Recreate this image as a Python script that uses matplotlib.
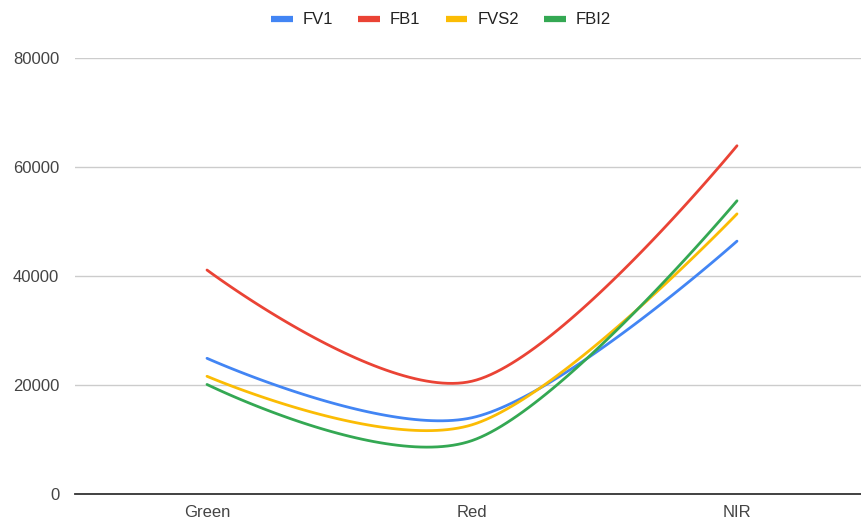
import numpy as np
import matplotlib
matplotlib.use("Agg")
import matplotlib.pyplot as plt
from matplotlib.lines import Line2D

plt.rcParams['font.family'] = ['Liberation Sans', 'DejaVu Sans']

bands = ["Green", "Red", "NIR"]
fv1 = [24900, 14000, 46400]
fb1 = [41100, 20700, 63900]
fvs2 = [21600, 12700, 51400]
fbi2 = [20100, 9800, 53800]

series = [("FV1", fv1, "#4285F4"),
          ("FB1", fb1, "#EA4335"),
          ("FVS2", fvs2, "#FBBC04"),
          ("FBI2", fbi2, "#34A853")]

W, H = 861, 523
fig = plt.figure(figsize=(W / 100, H / 100), dpi=100)
ax = fig.add_axes([74.5 / W, (H - 494) / H, 795 / W, 436 / H])
ax.set_xlim(-0.5, 2.5)
ax.set_ylim(0, 80000)


def smooth_path(xs, ys, k=1 / 6, n=60):
    """Cubic Bezier smoothing computed in display space."""
    pts = ax.transData.transform(np.column_stack([xs, ys]))
    m = len(pts)
    out = []
    for i in range(m - 1):
        p0, p3 = pts[i], pts[i + 1]
        if i == 0:
            c1 = p0
        else:
            c1 = p0 + k * (pts[i + 1] - pts[i - 1])
        if i + 1 == m - 1:
            c2 = p3
        else:
            c2 = p3 - k * (pts[i + 2] - pts[i])
        t = np.linspace(0, 1, n)[:, None]
        seg = ((1 - t) ** 3) * p0 + 3 * ((1 - t) ** 2) * t * c1 \
            + 3 * (1 - t) * t ** 2 * c2 + t ** 3 * p3
        if i > 0:
            seg = seg[1:]
        out.append(seg)
    curve = np.vstack(out)
    data = ax.transData.inverted().transform(curve)
    return data[:, 0], data[:, 1]


x = np.arange(len(bands))
for name, vals, color in series:
    sx, sy = smooth_path(x, vals)
    ax.plot(sx, sy, color=color, lw=2.0, solid_capstyle='round', zorder=3)

ax.set_yticks([0, 20000, 40000, 60000, 80000])
ax.set_xticks(x)
ax.set_xticklabels(bands)
ax.grid(axis='y', color='#cccccc', lw=1.0)
ax.set_axisbelow(True)
for s in ['top', 'right', 'left']:
    ax.spines[s].set_visible(False)
ax.spines['bottom'].set_color('#333333')
ax.spines['bottom'].set_linewidth(1.3)
ax.tick_params(axis='both', length=0, labelsize=12, colors='#444444')
ax.tick_params(axis='y', pad=11)
ax.tick_params(axis='x', pad=8)

handles = [Line2D([0], [0], color=c, lw=4.5, solid_capstyle='butt') for _, _, c in series]
fig.legend(handles, [n for n, _, _ in series], loc='center', bbox_to_anchor=(441 / W, 1 - 20 / H),
           ncol=4, frameon=False, fontsize=12, handlelength=1.3, handletextpad=0.6,
           columnspacing=1.5, labelcolor='#222222')

fig.savefig("out.png", dpi=100)
